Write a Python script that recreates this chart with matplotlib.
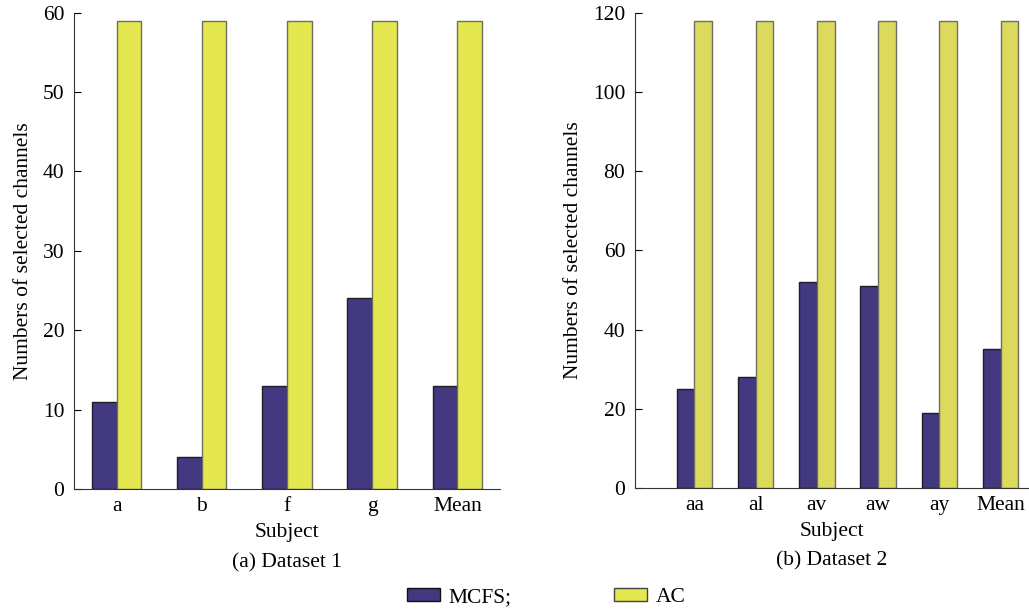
import matplotlib.pyplot as plt
from matplotlib.patches import Patch

plt.rcParams['font.family'] = ['Liberation Serif', 'DejaVu Serif']

subjects1 = ["a", "b", "f", "g", "Mean"]
mcfs1 = [11, 4, 13, 24, 13]
ac1 = [59, 59, 59, 59, 59]

subjects2 = ["aa", "al", "av", "aw", "ay", "Mean"]
mcfs2 = [25, 28, 52, 51, 19, 35]
ac2 = [118, 118, 118, 118, 118, 118]

BLUE = "#433980"
YEL1 = "#e5e750"
YEL2 = "#dcda5d"
FS = 15.5


def panel(ax, names, mcfs, ac, ycol, ymax, yticks, caption):
    x = list(range(1, len(names) + 1))
    w = 0.29
    ax.bar([i - w / 2 for i in x], mcfs, w, color=BLUE, edgecolor="#1e1e2a", linewidth=1.0)
    ax.bar([i + w / 2 for i in x], ac, w, color=ycol, edgecolor="#6f6f60", linewidth=1.0)
    ax.set_xticks(x)
    ax.set_xticklabels(names)
    ax.set_ylim(0, ymax)
    ax.set_yticks(yticks)
    ax.tick_params(axis="y", direction="in", length=5, labelsize=FS, pad=7)
    ax.tick_params(axis="x", length=0, labelsize=FS, pad=6)
    for s in ("top", "right"):
        ax.spines[s].set_visible(False)
    for s in ("left", "bottom"):
        ax.spines[s].set_color("#333333")
    ax.set_xlabel("Subject", fontsize=FS, labelpad=5)
    ax.set_ylabel("Numbers of selected channels", fontsize=FS, labelpad=7)
    ax.text(0.5, -0.134, caption, transform=ax.transAxes, ha="center", va="top", fontsize=FS)


fig = plt.figure(figsize=(10.29, 6.11), dpi=100)
ax1 = fig.add_axes([0.0719, 0.1997, 0.414, 0.7795])
ax2 = fig.add_axes([0.6171, 0.2013, 0.3820, 0.778])

panel(ax1, subjects1, mcfs1, ac1, YEL1, 60, range(0, 61, 10), "(a) Dataset 1")
ax1.set_xlim(0.5, 5.5)
panel(ax2, subjects2, mcfs2, ac2, YEL2, 120, range(0, 121, 20), "(b) Dataset 2")
ax2.set_xlim(0.03, 6.45)

handles = [Patch(facecolor=BLUE, edgecolor="#111111"), Patch(facecolor=YEL1, edgecolor="#444444")]
fig.legend(handles, ["MCFS;", "AC"], ncol=2, loc="center", bbox_to_anchor=(0.531, 0.022),
           frameon=False, fontsize=FS, handlelength=1.55, handleheight=0.56,
           columnspacing=4.75, handletextpad=0.4)

fig.savefig("out.png", dpi=100)
